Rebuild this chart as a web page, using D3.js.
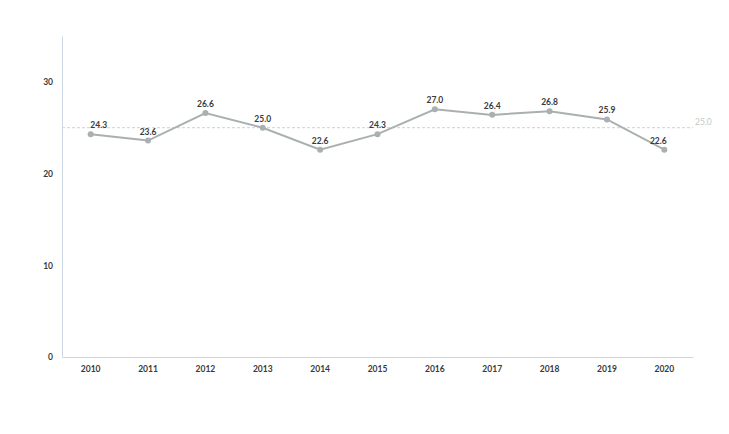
<!DOCTYPE html>
<html>
<head>
<meta charset="utf-8">
<script src="https://cdn.jsdelivr.net/npm/d3@7"></script>
<style>
  html, body { margin: 0; padding: 0; background: #fff; }
  #chart { width: 729px; height: 434px; }
  text { font-family: Lato, "Open Sans", sans-serif; font-weight: 700; }
</style>
</head>
<body>
<div id="chart"></div>
<script>
const years = ["2010", "2011", "2012", "2013", "2014", "2015", "2016", "2017", "2018", "2019", "2020"];
const values = [24.3, 23.6, 26.6, 25.0, 22.6, 24.3, 27.0, 26.4, 26.8, 25.9, 22.6];
const yTicks = [0, 10, 20, 30];
const referenceValue = 25.0;

const width = 729, height = 434;
const margin = { top: 36, right: 36, bottom: 77, left: 62 };
const innerW = width - margin.left - margin.right;
const innerH = height - margin.top - margin.bottom;

const svg = d3.select("#chart").append("svg")
  .attr("width", width)
  .attr("height", height);

const g = svg.append("g")
  .attr("transform", `translate(${margin.left},${margin.top})`);

const x = d3.scaleBand().domain(years).range([0, innerW]).padding(0);
const y = d3.scaleLinear().domain([0, 35]).range([innerH, 0]);
const cx = d => x(d) + x.bandwidth() / 2;

// y axis
const yAxis = g.append("g")
  .call(d3.axisLeft(y).tickValues(yTicks).tickSize(0).tickPadding(9));
yAxis.select(".domain").attr("stroke", "#cdd7e3");
yAxis.selectAll(".tick text")
  .attr("fill", "#3a3a3a")
  .style("font-size", "8.5px");

// x axis
const xAxis = g.append("g")
  .attr("transform", `translate(0,${innerH})`)
  .call(d3.axisBottom(x).tickSize(0).tickPadding(9));
xAxis.select(".domain").attr("stroke", "#cdd7e3");
xAxis.selectAll(".tick text")
  .attr("fill", "#3a3a3a")
  .style("font-size", "8.5px");

// reference line
g.append("line")
  .attr("x1", 0).attr("x2", innerW)
  .attr("y1", y(referenceValue)).attr("y2", y(referenceValue))
  .attr("stroke", "#d0d0d0")
  .attr("stroke-width", 1)
  .attr("stroke-dasharray", "3 2");

g.append("text")
  .attr("x", innerW + 2)
  .attr("y", y(referenceValue) - 3)
  .attr("fill", "#c8c8c8")
  .style("font-weight", 400)
  .style("font-size", "8.5px")
  .text(referenceValue.toFixed(1));

const data = years.map((yr, i) => ({ year: yr, value: values[i] }));

// line
g.append("path")
  .datum(data)
  .attr("fill", "none")
  .attr("stroke", "#aab0b1")
  .attr("stroke-width", 2)
  .attr("d", d3.line().x(d => cx(d.year)).y(d => y(d.value)));

// points
g.selectAll(".dot")
  .data(data)
  .join("circle")
  .attr("class", "dot")
  .attr("cx", d => cx(d.year))
  .attr("cy", d => y(d.value))
  .attr("r", 3)
  .attr("fill", "#aab0b1");

// value labels
g.selectAll(".lbl")
  .data(data)
  .join("text")
  .attr("class", "lbl")
  .attr("x", (d, i) => cx(d.year) + (i === 0 ? 8 : i === data.length - 1 ? -6 : 0))
  .attr("y", d => y(d.value) - 6)
  .attr("text-anchor", "middle")
  .attr("fill", "#3a3a3a")
  .style("font-size", "8.5px")
  .text(d => d.value.toFixed(1));
</script>
</body>
</html>
